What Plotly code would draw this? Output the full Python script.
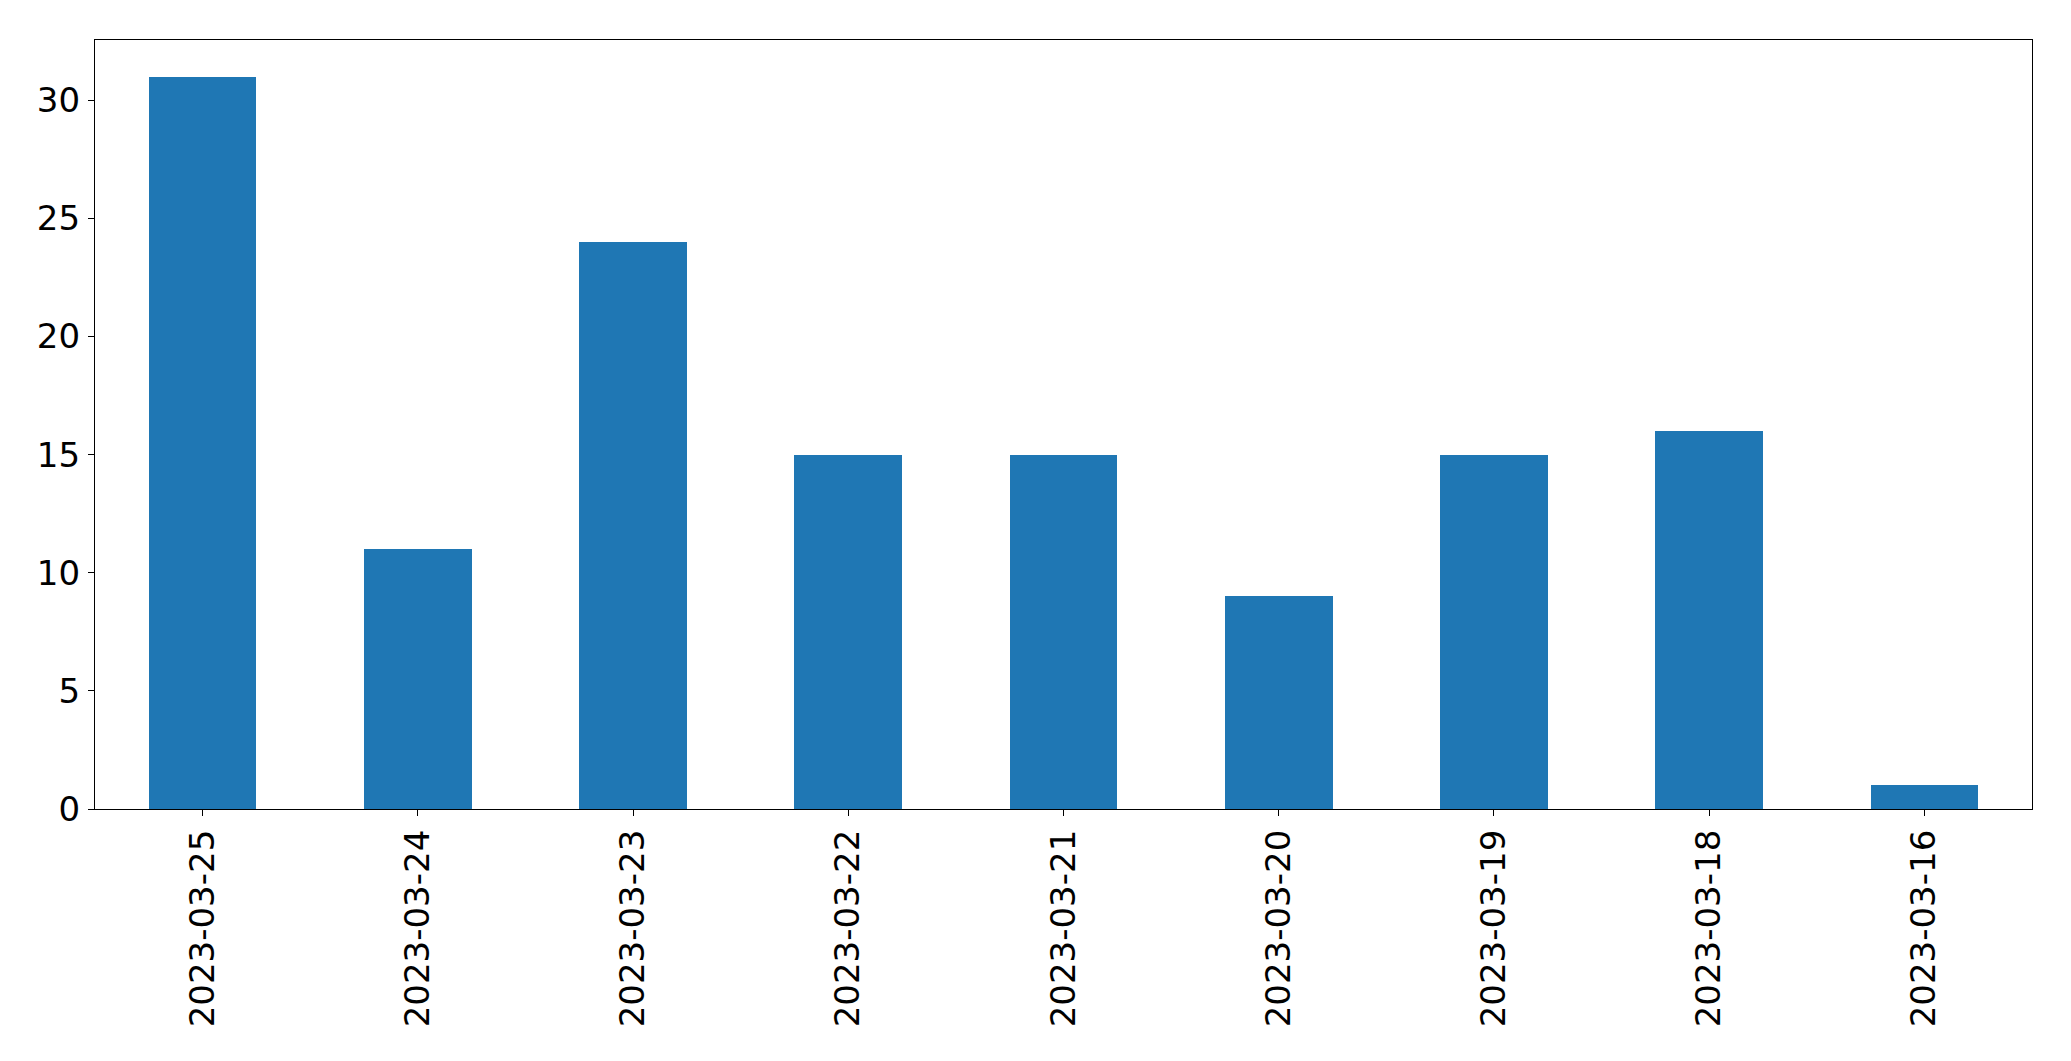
import plotly.graph_objects as go

dates = ["2023-03-25", "2023-03-24", "2023-03-23", "2023-03-22", "2023-03-21",
         "2023-03-20", "2023-03-19", "2023-03-18", "2023-03-16"]
counts = [31, 11, 24, 15, 15, 9, 15, 16, 1]
y_ticks = [0, 5, 10, 15, 20, 25, 30]

fig = go.Figure(go.Bar(x=dates, y=counts, width=0.5, marker=dict(color="#1f77b4", line=dict(width=0))))

# page body has an 8px default margin; compensate
W, H = 2063, 1053
fig.update_layout(
    width=W, height=H,
    margin=dict(l=86.5, r=39.3, t=31.5, b=252, pad=0, autoexpand=False),
    paper_bgcolor="white", plot_bgcolor="white",
    font=dict(family="DejaVu Sans", size=34, color="black"),
    showlegend=False,
    bargap=0,
)
fig.update_xaxes(
    type="category", range=[-0.5, 8.5], tickangle=-90,
    showline=True, linecolor="black", linewidth=1.3, mirror=True,
    ticks="outside", ticklen=6, tickwidth=1.3, tickcolor="black",
    showgrid=False, zeroline=False, ticklabelstandoff=0, automargin=False,
)
fig.update_yaxes(
    range=[0, 32.55], tickvals=y_ticks,
    showline=True, linecolor="black", linewidth=1.3, mirror=True,
    ticks="outside", ticklen=6, tickwidth=1.3, tickcolor="black",
    showgrid=False, zeroline=False, ticklabelstandoff=1, automargin=False,
)
fig.write_html("out.html")
